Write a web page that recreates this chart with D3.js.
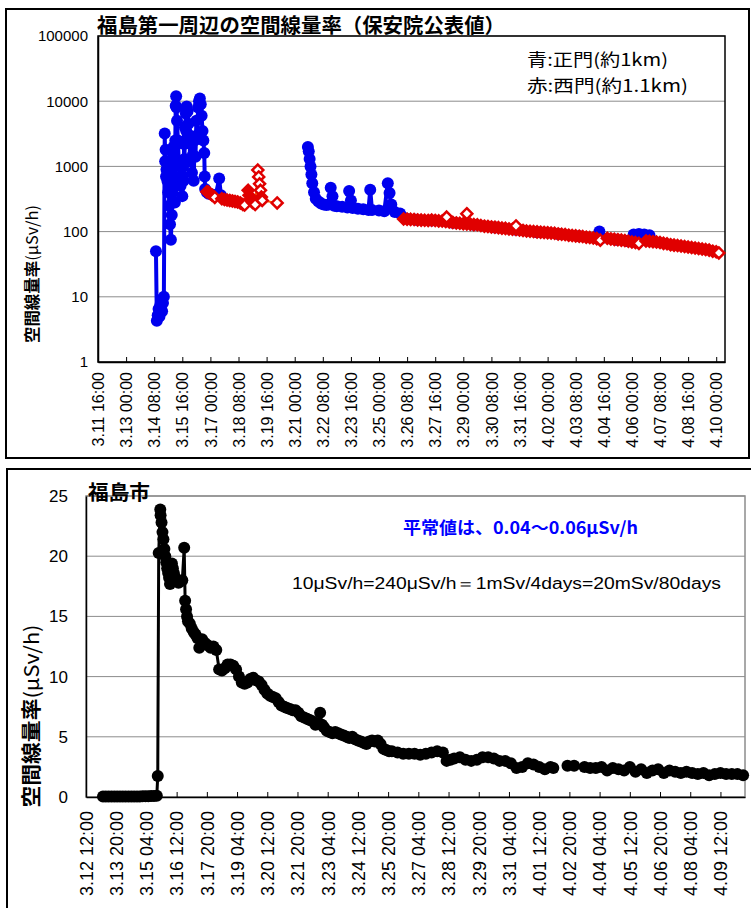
<!DOCTYPE html>
<html>
<head>
<meta charset="utf-8">
<script src="https://cdn.jsdelivr.net/npm/d3@7"></script>
<style>
  body { margin: 0; background: #fff; }
  svg { display: block; }
  .jp { font-family: 'Noto Sans CJK JP', sans-serif; }
</style>
</head>
<body>
<svg id="chart" width="751" height="908"></svg>
<script>
// tick labels
var topTicks = ['3.11 16:00', '3.13 00:00', '3.14 08:00', '3.15 16:00', '3.17 00:00', '3.18 08:00',
  '3.19 16:00', '3.21 00:00', '3.22 08:00', '3.23 16:00', '3.25 00:00', '3.26 08:00', '3.27 16:00',
  '3.29 00:00', '3.30 08:00', '3.31 16:00', '4.02 00:00', '4.03 08:00', '4.04 16:00', '4.06 00:00',
  '4.07 08:00', '4.08 16:00', '4.10 00:00'];
var bottomTicks = ['3.12 12:00', '3.13 20:00', '3.15 04:00', '3.16 12:00', '3.17 20:00', '3.19 04:00',
  '3.20 12:00', '3.21 20:00', '3.23 04:00', '3.24 12:00', '3.25 20:00', '3.27 04:00', '3.28 12:00',
  '3.29 20:00', '3.31 04:00', '4.01 12:00', '4.02 20:00', '4.04 04:00', '4.05 12:00', '4.06 20:00',
  '4.08 04:00', '4.09 12:00'];
var topYTicks = [1, 10, 100, 1000, 10000, 100000];
var bottomYTicks = [0, 5, 10, 15, 20, 25];

// 青: 正門 (uSv/h), null = no reading
var mainGate = [
  ['3.14 10:00', 50], ['3.14 11:00', 4.3], ['3.14 12:00', 5.2], ['3.14 13:00', 6.5], ['3.14 14:00', 5],
  ['3.14 15:00', 7.5], ['3.14 16:00', 9], ['3.14 17:00', 6], ['3.14 18:00', 8], ['3.14 19:00', 10],
  ['3.14 20:00', 3200], ['3.14 20:30', 1200], ['3.14 21:00', 1800], ['3.14 21:30', 700], ['3.14 22:00', 900],
  ['3.14 23:00', 600], ['3.14 23:30', 1100], ['3.15 00:00', 400], ['3.15 00:30', 700], ['3.15 01:00', 250],
  ['3.15 02:00', 130], ['3.15 03:00', 75], ['3.15 04:00', 180], ['3.15 04:30', 400], ['3.15 05:00', 700],
  ['3.15 05:30', 1400], ['3.15 06:00', 2000], ['3.15 06:30', 1000], ['3.15 07:00', 600], ['3.15 07:30', 280],
  ['3.15 08:00', 2500], ['3.15 08:30', 8500], ['3.15 09:00', 11930], ['3.15 09:30', 8000], ['3.15 10:00', 5000],
  ['3.15 11:00', 2500], ['3.15 12:00', 1200], ['3.15 13:00', 700], ['3.15 14:00', 500], ['3.15 15:00', 600],
  ['3.15 16:00', 350], ['3.15 16:30', 700], ['3.15 17:00', 1000], ['3.15 17:30', 600], ['3.15 18:00', 2200],
  ['3.15 18:30', 1300], ['3.15 19:00', 4000], ['3.15 19:30', 2500], ['3.15 20:00', 6500], ['3.15 20:30', 3500],
  ['3.15 21:00', 8300], ['3.15 22:00', 7000], ['3.15 22:30', 3000], ['3.15 23:00', 4500], ['3.16 00:00', 3000],
  ['3.16 01:00', 1200], ['3.16 02:00', 2200], ['3.16 03:00', 800], ['3.16 04:00', 1500], ['3.16 05:00', 600],
  ['3.16 06:00', 2500], ['3.16 07:00', 1400], ['3.16 08:00', 5000], ['3.16 09:00', 3000], ['3.16 10:00', 8000],
  ['3.16 11:00', 10000], ['3.16 12:00', 11000], ['3.16 13:00', 9000], ['3.16 14:00', 6000], ['3.16 15:00', 3500],
  ['3.16 16:00', 2500], ['3.16 17:00', 1600], ['3.16 17:30', 700], ['3.16 18:00', 450], ['3.16 20:00', 400],
  ['3.16 22:00', 380], ['3.17 02:00', 370], ['3.17 06:00', 360], ['3.17 10:00', 650], ['3.17 12:00', 360],
  ['3.19 00:00', null],
  ['3.21 15:00', 1990], ['3.21 16:00', 1700], ['3.21 17:00', 1300], ['3.21 18:00', 1000], ['3.21 19:00', 750],
  ['3.21 20:00', 550], ['3.21 22:00', 400], ['3.22 00:00', 320], ['3.22 03:00', 290], ['3.22 06:00', 270],
  ['3.22 09:00', 260], ['3.22 12:00', 255], ['3.22 15:00', 260], ['3.22 17:00', 470], ['3.22 19:00', 350],
  ['3.22 21:00', 250], ['3.23 00:00', 245], ['3.23 06:00', 240], ['3.23 12:00', 235], ['3.23 14:00', 420],
  ['3.23 16:00', 300], ['3.23 18:00', 230], ['3.24 00:00', 225], ['3.24 06:00', 220], ['3.24 12:00', 215],
  ['3.24 14:00', 440], ['3.24 16:00', 215], ['3.25 00:00', 210], ['3.25 06:00', 205], ['3.25 10:00', 550],
  ['3.25 12:00', 390], ['3.25 14:00', 260], ['3.25 18:00', 200], ['3.26 00:00', 190], ['3.26 06:00', 160],
  ['3.26 18:00', 152], ['3.27 12:00', 148], ['3.28 12:00', 137], ['3.29 12:00', 127], ['3.30 12:00', 116],
  ['3.31 12:00', 107], ['4.01 12:00', 98], ['4.02 12:00', 92], ['4.03 12:00', 85], ['4.04 06:00', 80],
  ['4.04 11:00', 100], ['4.04 14:00', 80], ['4.05 06:00', 75], ['4.05 18:00', 72], ['4.06 02:00', 90],
  ['4.06 08:00', 92], ['4.06 14:00', 90], ['4.06 20:00', 88], ['4.06 22:00', 72]
];

// 赤: 西門 (uSv/h), null = no reading
var westGate = [
  ['3.16 20:00', 410], ['3.16 22:00', 400], ['3.17 00:00', 380], ['3.17 02:00', 360], ['3.17 05:00', 335],
  ['3.17 13:00', 320], ['3.17 16:00', 310], ['3.17 19:00', 305], ['3.17 22:00', 300], ['3.18 01:00', 295],
  ['3.18 04:00', 290], ['3.18 07:00', 285], ['3.18 10:00', 275], ['3.18 13:00', 260], ['3.18 15:00', 255],
  ['3.18 19:00', 430], ['3.18 20:00', 360], ['3.18 22:00', 310], ['3.19 00:00', 280], ['3.19 03:00', 260],
  ['3.19 06:00', 880], ['3.19 07:00', 690], ['3.19 08:00', 540], ['3.19 09:00', 430], ['3.19 10:00', 340],
  ['3.19 11:00', 300], ['3.20 04:00', 275],
  ['3.23 00:00', null],
  ['3.26 04:00', 156], ['3.26 08:00', 155], ['3.26 12:00', 154], ['3.26 16:00', 153], ['3.26 20:00', 151],
  ['3.27 00:00', 150], ['3.27 04:00', 149], ['3.27 08:00', 148], ['3.27 12:00', 150], ['3.27 16:00', 148], ['3.27 20:00', 146],
  ['3.28 00:00', 145], ['3.28 04:00', 143], ['3.28 08:00', 140], ['3.28 12:00', 138], ['3.28 16:00', 136], ['3.28 20:00', 134],
  ['3.29 00:00', 132], ['3.29 04:00', 131], ['3.29 08:00', 130], ['3.29 12:00', 128], ['3.29 16:00', 127], ['3.29 20:00', 124],
  ['3.30 00:00', 121], ['3.30 04:00', 120], ['3.30 08:00', 118], ['3.30 12:00', 117], ['3.30 16:00', 115], ['3.30 20:00', 113],
  ['3.31 00:00', 112], ['3.31 04:00', 110], ['3.31 08:00', 109], ['3.31 12:00', 108], ['3.31 16:00', 106], ['3.31 20:00', 104],
  ['4.01 00:00', 102], ['4.01 04:00', 101], ['4.01 08:00', 100], ['4.01 12:00', 99], ['4.01 16:00', 98], ['4.01 20:00', 97],
  ['4.02 00:00', 96], ['4.02 04:00', 95], ['4.02 08:00', 94], ['4.02 12:00', 92], ['4.02 16:00', 91], ['4.02 20:00', 90],
  ['4.03 00:00', 88], ['4.03 04:00', 87], ['4.03 08:00', 86], ['4.03 12:00', 85], ['4.03 16:00', 84], ['4.03 20:00', 82],
  ['4.04 00:00', 81], ['4.04 04:00', 80], ['4.04 08:00', 78], ['4.04 12:00', 74], ['4.04 20:00', 79],
  ['4.05 00:00', 77], ['4.05 04:00', 76], ['4.05 08:00', 75], ['4.05 12:00', 74], ['4.05 16:00', 73], ['4.05 20:00', 71],
  ['4.06 00:00', 69], ['4.06 04:00', 68], ['4.06 08:00', 66], ['4.06 16:00', 72], ['4.06 20:00', 71],
  ['4.07 00:00', 70], ['4.07 04:00', 69], ['4.07 08:00', 68], ['4.07 12:00', 66], ['4.07 16:00', 65], ['4.07 20:00', 63],
  ['4.08 00:00', 62], ['4.08 04:00', 61], ['4.08 08:00', 60], ['4.08 12:00', 59], ['4.08 16:00', 58], ['4.08 20:00', 57],
  ['4.09 00:00', 56], ['4.09 04:00', 55], ['4.09 08:00', 54], ['4.09 12:00', 53], ['4.09 16:00', 52], ['4.09 20:00', 50],
  ['4.10 00:00', 49], ['4.10 03:00', 47]
];
// 西門 spot readings
var westGateSpot = [['3.28 05:00', 167], ['3.29 04:00', 188], ['3.31 12:00', 122]];

// 福島市 (uSv/h), null = no reading
var fukushimaCity = [
  ['3.13 06:00', 0.05], ['3.13 09:00', 0.05], ['3.13 12:00', 0.04], ['3.13 15:00', 0.05], ['3.13 18:00', 0.04],
  ['3.13 21:00', 0.04], ['3.14 00:00', 0.05], ['3.14 03:00', 0.05], ['3.14 06:00', 0.04], ['3.14 09:00', 0.05],
  ['3.14 12:00', 0.05], ['3.14 15:00', 0.05], ['3.14 18:00', 0.05], ['3.14 21:00', 0.05], ['3.15 00:00', 0.06],
  ['3.15 03:00', 0.06], ['3.15 06:00', 0.07], ['3.15 09:00', 0.08], ['3.15 12:00', 0.08], ['3.15 15:00', 0.1],
  ['3.15 16:00', 1.75], ['3.15 17:00', 20.26], ['3.15 18:40', 23.88], ['3.15 19:00', 23.4], ['3.15 20:00', 22.8],
  ['3.15 21:00', 22.0], ['3.15 22:00', 21.4], ['3.15 23:00', 20.6], ['3.16 00:00', 20.0], ['3.16 01:00', 19.5],
  ['3.16 02:00', 19.0], ['3.16 03:00', 18.6], ['3.16 04:00', 18.2], ['3.16 05:00', 17.7], ['3.16 06:00', 18.5],
  ['3.16 07:00', 19.4], ['3.16 08:00', 19.0], ['3.16 09:00', 18.6], ['3.16 10:00', 18.3], ['3.16 12:00', 18.0],
  ['3.16 14:00', 17.8], ['3.16 16:00', 17.9], ['3.16 18:00', 18.0], ['3.16 20:00', 20.7], ['3.16 21:00', 16.3],
  ['3.16 22:00', 15.6], ['3.16 23:00', 15.0], ['3.17 00:00', 14.6], ['3.17 02:00', 14.4], ['3.17 04:00', 14.0],
  ['3.17 06:00', 13.7], ['3.17 08:00', 13.5], ['3.17 10:00', 13.2], ['3.17 12:00', 12.4], ['3.17 15:00', 13.1],
  ['3.17 18:00', 12.8], ['3.17 21:00', 12.6], ['3.18 00:00', 12.4], ['3.18 03:00', 12.5], ['3.18 06:00', 12.2],
  ['3.18 09:00', 10.6], ['3.18 12:00', 10.5], ['3.18 15:00', 10.7], ['3.18 18:00', 11.0], ['3.18 21:00', 11.0],
  ['3.19 00:00', 10.9], ['3.19 03:00', 10.6], ['3.19 06:00', 10.0], ['3.19 09:00', 9.5], ['3.19 12:00', 9.4],
  ['3.19 15:00', 9.5], ['3.19 18:00', 9.8], ['3.19 21:00', 9.9], ['3.20 00:00', 9.7], ['3.20 03:00', 9.6],
  ['3.20 06:00', 9.3], ['3.20 09:00', 8.9], ['3.20 12:00', 8.6], ['3.20 15:00', 8.4], ['3.20 18:00', 8.3],
  ['3.20 21:00', 8.2], ['3.21 00:00', 7.9], ['3.21 03:00', 7.6], ['3.21 06:00', 7.5], ['3.21 09:00', 7.4],
  ['3.21 12:00', 7.3], ['3.21 15:00', 7.2], ['3.21 18:00', 7.2], ['3.21 21:00', 7.0], ['3.22 00:00', 6.7],
  ['3.22 03:00', 6.6], ['3.22 06:00', 6.5], ['3.22 09:00', 6.4], ['3.22 12:00', 6.3], ['3.22 15:00', 6.0],
  ['3.22 18:00', 6.1], ['3.22 20:00', 7.0], ['3.22 22:00', 6.0], ['3.23 00:00', 5.8], ['3.23 03:00', 5.5],
  ['3.23 06:00', 5.4], ['3.23 09:00', 5.3], ['3.23 12:00', 5.4], ['3.23 15:00', 5.3], ['3.23 18:00', 5.2],
  ['3.23 21:00', 5.1], ['3.24 00:00', 5.0], ['3.24 03:00', 4.9], ['3.24 06:00', 5.0], ['3.24 09:00', 4.8],
  ['3.24 12:00', 4.7], ['3.24 15:00', 4.6], ['3.24 18:00', 4.5], ['3.24 21:00', 4.4], ['3.25 00:00', 4.6],
  ['3.25 03:00', 4.7], ['3.25 06:00', 4.6], ['3.25 09:00', 4.7], ['3.25 12:00', 4.4], ['3.25 15:00', 4.0],
  ['3.25 18:00', 3.9], ['3.25 21:00', 3.8], ['3.26 00:00', 3.8], ['3.26 06:00', 3.7], ['3.26 12:00', 3.6],
  ['3.26 18:00', 3.6], ['3.27 00:00', 3.6], ['3.27 06:00', 3.5], ['3.27 12:00', 3.6], ['3.27 18:00', 3.7],
  ['3.28 00:00', 3.8], ['3.28 06:00', 3.7], ['3.28 10:00', 3.0], ['3.28 14:00', 3.1], ['3.28 18:00', 3.2],
  ['3.29 00:00', 3.3], ['3.29 06:00', 3.1], ['3.29 12:00', 3.0], ['3.29 18:00', 3.1], ['3.30 00:00', 3.3],
  ['3.30 06:00', 3.3], ['3.30 12:00', 3.2], ['3.30 18:00', 3.0], ['3.31 00:00', 3.0], ['3.31 06:00', 2.8],
  ['3.31 12:00', 2.4], ['3.31 18:00', 2.5], ['4.01 00:00', 2.8], ['4.01 06:00', 2.7], ['4.01 12:00', 2.5],
  ['4.01 18:00', 2.3], ['4.02 00:00', 2.5], ['4.02 03:00', 2.4], ['4.02 10:00', null], ['4.02 18:00', 2.6],
  ['4.03 01:00', 2.6], ['4.03 06:00', null], ['4.03 12:00', 2.5], ['4.03 18:00', 2.4], ['4.04 00:00', 2.4],
  ['4.04 06:00', 2.5], ['4.04 12:00', 2.2], ['4.04 18:00', 2.4], ['4.05 00:00', 2.3], ['4.05 06:00', 2.2],
  ['4.05 12:00', 2.5], ['4.05 18:00', 2.1], ['4.06 00:00', 2.3], ['4.06 06:00', 2.0], ['4.06 12:00', 2.2],
  ['4.06 18:00', 2.3], ['4.07 00:00', 2.0], ['4.07 06:00', 2.2], ['4.07 12:00', 2.1], ['4.07 18:00', 2.0],
  ['4.08 00:00', 2.1], ['4.08 06:00', 2.0], ['4.08 12:00', 1.9], ['4.08 18:00', 2.0], ['4.09 00:00', 1.8],
  ['4.09 06:00', 1.9], ['4.09 12:00', 2.0], ['4.09 18:00', 1.9], ['4.10 00:00', 1.9], ['4.10 06:00', 1.9],
  ['4.10 12:00', 1.8]
];

var parseTime = d3.timeParse('%Y.%m.%d %H:%M');
function tp(s) { return parseTime('2011.' + s); }
function has(d) { return d[1] != null; }

var svg = d3.select('#chart');
var numFont = "'Liberation Sans', Arial, sans-serif";

function diamond(r) {
  return 'M0,' + -r + 'L' + r + ',0L0,' + r + 'L' + -r + ',0Z';
}

// panel frames
svg.append('rect')
    .attr('x', 6).attr('y', 9).attr('width', 743).attr('height', 449)
    .attr('fill', 'none').attr('stroke', '#000').attr('stroke-width', 2);
svg.append('rect')
    .attr('x', 7).attr('y', 469).attr('width', 760).attr('height', 460)
    .attr('fill', 'none').attr('stroke', '#000').attr('stroke-width', 2);

function axes(plot, x, y, xTicks, yTicks, yFormat, opt) {
  // gridlines
  svg.append('g').selectAll('line')
      .data(yTicks)
      .enter()
    .append('line')
      .attr('x1', plot.left).attr('x2', plot.right)
      .attr('y1', function (d) { return y(d); })
      .attr('y2', function (d) { return y(d); })
      .attr('stroke', '#8c8c8c').attr('stroke-width', 1);

  svg.append('rect')
      .attr('x', plot.left).attr('y', plot.top)
      .attr('width', plot.right - plot.left).attr('height', plot.bottom - plot.top)
      .attr('fill', 'none').attr('stroke', opt.border).attr('stroke-width', 1.5);

  var xAxis = d3.axisBottom(x)
      .tickValues(xTicks.map(tp))
      .tickFormat(function (d, i) { return xTicks[i]; })
      .tickSizeInner(-5).tickSizeOuter(0);
  var gx = svg.append('g')
      .attr('transform', 'translate(0,' + plot.bottom + ')')
      .call(xAxis)
      .attr('font-family', numFont);
  gx.select('.domain').attr('stroke-width', 1.5);
  gx.selectAll('text')
      .attr('transform', 'rotate(-90)')
      .attr('text-anchor', 'end')
      .attr('x', -opt.xPad).attr('y', 0).attr('dy', '0.35em')
      .style('font-size', opt.xSize + 'px');

  var yAxis = d3.axisLeft(y)
      .tickValues(yTicks)
      .tickFormat(yFormat)
      .tickSize(0).tickPadding(opt.yPad);
  var gy = svg.append('g')
      .attr('transform', 'translate(' + plot.left + ',0)')
      .call(yAxis)
      .attr('font-family', numFont);
  gy.select('.domain').attr('stroke-width', 1.5);
  gy.selectAll('text').style('font-size', opt.ySize + 'px');
}

function yTitle(cx, cy, len, size) {
  var t = svg.append('text')
      .attr('class', 'jp')
      .attr('transform', 'translate(' + cx + ',' + cy + ') rotate(-90)')
      .attr('text-anchor', 'middle').attr('dy', '0.35em')
      .attr('textLength', len).attr('lengthAdjust', 'spacingAndGlyphs')
      .style('font-size', size + 'px');
  t.append('tspan').style('font-weight', 'bold').text('空間線量率');
  t.append('tspan').text('(μSv/h)');
}

(function drawTop() {
  var plot = { left: 98, right: 725, top: 36, bottom: 362 };
  var x = d3.scaleTime()
      .domain([tp('3.11 16:00'), tp('4.10 10:00')])
      .range([plot.left, plot.right]);
  var y = d3.scaleLog()
      .domain([1, 100000])
      .range([plot.bottom, plot.top]);

  axes(plot, x, y, topTicks, topYTicks, d3.format('d'),
    { border: '#000', xPad: 10, xSize: 16, yPad: 10, ySize: 15 });

  var line = d3.line()
      .defined(has)
      .x(function (d) { return x(tp(d[0])); })
      .y(function (d) { return y(d[1]); });

  // 正門
  svg.append('path')
      .datum(mainGate)
      .attr('d', line)
      .attr('fill', 'none').attr('stroke', '#0000ee').attr('stroke-width', 4);
  svg.append('g').selectAll('circle')
      .data(mainGate.filter(has))
      .enter()
    .append('circle')
      .attr('cx', function (d) { return x(tp(d[0])); })
      .attr('cy', function (d) { return y(d[1]); })
      .attr('r', 6)
      .attr('fill', '#0000ee');

  // 西門: a marker shows white inside when the next reading does not overlap it
  var west = westGate.filter(has);
  function hollow(d, i) {
    var next = west[i + 1];
    if (!next) return true;
    if (tp(next[0]) - tp(d[0]) > 6 * 3600e3) return true;
    return Math.abs(y(next[1]) - y(d[1])) > 5.5;
  }
  svg.append('path')
      .datum(westGate)
      .attr('d', line)
      .attr('fill', 'none').attr('stroke', '#ff5a00').attr('stroke-width', 2);
  svg.append('g').selectAll('path')
      .data(west)
      .enter()
    .append('path')
      .attr('d', diamond(5.5))
      .attr('transform', function (d) { return 'translate(' + x(tp(d[0])) + ',' + y(d[1]) + ')'; })
      .attr('fill', function (d, i) { return hollow(d, i) ? '#fff' : '#e00000'; })
      .attr('stroke', '#e00000').attr('stroke-width', 2.5);
  svg.append('g').selectAll('path')
      .data(westGateSpot)
      .enter()
    .append('path')
      .attr('d', diamond(5.5))
      .attr('transform', function (d) { return 'translate(' + x(tp(d[0])) + ',' + y(d[1]) + ')'; })
      .attr('fill', '#fff')
      .attr('stroke', '#e00000').attr('stroke-width', 2.5);

  svg.append('text')
      .attr('class', 'jp')
      .attr('x', 97).attr('y', 33)
      .attr('textLength', 408).attr('lengthAdjust', 'spacingAndGlyphs')
      .style('font-size', '20px').style('font-weight', 'bold')
      .text('福島第一周辺の空間線量率（保安院公表値）');

  svg.append('text')
      .attr('class', 'jp')
      .attr('x', 527).attr('y', 66)
      .attr('textLength', 141).attr('lengthAdjust', 'spacingAndGlyphs')
      .style('font-size', '17px')
      .text('青:正門(約1km)');
  svg.append('text')
      .attr('class', 'jp')
      .attr('x', 527).attr('y', 92)
      .attr('textLength', 161).attr('lengthAdjust', 'spacingAndGlyphs')
      .style('font-size', '17px')
      .text('赤:西門(約1.1km)');

  yTitle(32, 274, 138, 16);
})();

(function drawBottom() {
  var plot = { left: 86, right: 745, top: 496, bottom: 797 };
  var x = d3.scaleTime()
      .domain([tp('3.12 12:00'), tp('4.10 14:00')])
      .range([plot.left, plot.right]);
  var y = d3.scaleLinear()
      .domain([0, 25])
      .range([plot.bottom, plot.top]);

  axes(plot, x, y, bottomTicks, bottomYTicks, d3.format('d'),
    { border: '#8c8c8c', xPad: 14, xSize: 18, yPad: 18, ySize: 17 });

  var line = d3.line()
      .defined(has)
      .x(function (d) { return x(tp(d[0])); })
      .y(function (d) { return y(d[1]); });

  svg.append('path')
      .datum(fukushimaCity)
      .attr('d', line)
      .attr('fill', 'none').attr('stroke', '#000').attr('stroke-width', 3);
  svg.append('g').selectAll('circle')
      .data(fukushimaCity.filter(has))
      .enter()
    .append('circle')
      .attr('cx', function (d) { return x(tp(d[0])); })
      .attr('cy', function (d) { return y(d[1]); })
      .attr('r', 6)
      .attr('fill', '#000');

  svg.append('text')
      .attr('class', 'jp')
      .attr('x', 88).attr('y', 500)
      .attr('textLength', 62).attr('lengthAdjust', 'spacingAndGlyphs')
      .style('font-size', '20px').style('font-weight', 'bold')
      .text('福島市');

  svg.append('text')
      .attr('class', 'jp')
      .attr('x', 403).attr('y', 534)
      .attr('textLength', 235).attr('lengthAdjust', 'spacingAndGlyphs')
      .style('font-size', '17px').style('font-weight', 'bold')
      .attr('fill', '#0000ff')
      .text('平常値は、0.04～0.06μSv/h');

  svg.append('text')
      .attr('x', 292).attr('y', 589)
      .attr('textLength', 429).attr('lengthAdjust', 'spacingAndGlyphs')
      .style('font-family', numFont)
      .style('font-size', '16px')
      .text('10μSv/h=240μSv/h＝1mSv/4days=20mSv/80days');

  yTitle(32, 716, 183, 20);
})();
</script>
</body>
</html>
